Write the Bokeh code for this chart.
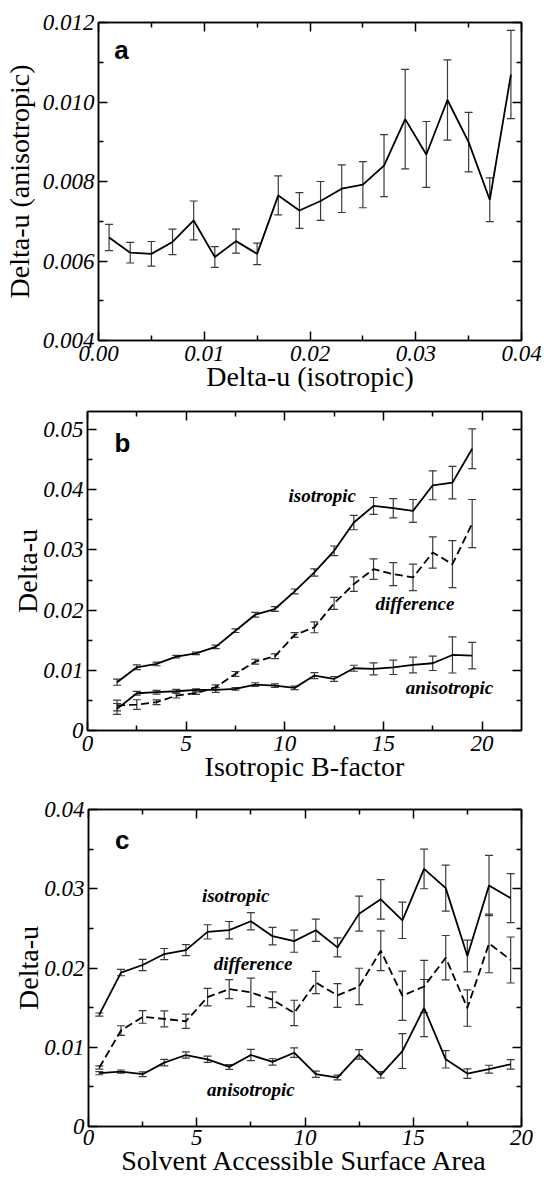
from bokeh.plotting import figure
from bokeh.models import (ColumnDataSource, Whisker, TeeHead, FixedTicker, LinearAxis,
                          Range1d, Label, CustomJSTickFormatter)
from bokeh.embed import file_html
from bokeh.resources import INLINE

# ---------------- Panel a ----------------
a_x = [0.001, 0.003, 0.005, 0.007, 0.009, 0.011, 0.013, 0.015, 0.017, 0.019,
       0.021, 0.023, 0.025, 0.027, 0.029, 0.031, 0.033, 0.035, 0.037, 0.039]
a_y = [0.00659, 0.00621, 0.00618, 0.00648, 0.00702, 0.00610, 0.00650, 0.00618, 0.00765, 0.00727,
       0.00751, 0.00782, 0.00792, 0.00840, 0.00957, 0.00868, 0.01005, 0.00899, 0.00754, 0.01069]
a_err = [0.00033, 0.00026, 0.00031, 0.00032, 0.00049, 0.00026, 0.00030, 0.00027, 0.00049, 0.00045,
         0.00049, 0.00060, 0.00058, 0.00078, 0.00125, 0.00083, 0.00101, 0.00075, 0.00055, 0.00111]
a_xticks = [0.0, 0.01, 0.02, 0.03, 0.04]
a_xlabels = ["0.00", "0.01", "0.02", "0.03", "0.04"]
a_xminor = [0.005, 0.015, 0.025, 0.035]
a_yticks = [0.004, 0.006, 0.008, 0.010, 0.012]
a_ylabels = ["0.004", "0.006", "0.008", "0.010", "0.012"]
a_yminor = [0.005, 0.007, 0.009, 0.011]

# ---------------- Panel b ----------------
b_x = [1.5, 2.5, 3.5, 4.5, 5.5, 6.5, 7.5, 8.5, 9.5, 10.5,
       11.5, 12.5, 13.5, 14.5, 15.5, 16.5, 17.5, 18.5, 19.5]
b_iso = [0.00802, 0.0105, 0.01106, 0.01227, 0.01282, 0.0139, 0.01658, 0.01924, 0.02018, 0.02311,
         0.02626, 0.02985, 0.03455, 0.03731, 0.03693, 0.03648, 0.04074, 0.04118, 0.04682]
b_iso_err = [0.0005, 0.0004, 0.0003, 0.0002, 0.0002, 0.0003, 0.0003, 0.0004, 0.0004, 0.0004,
             0.0006, 0.0008, 0.0012, 0.0014, 0.0016, 0.0019, 0.0024, 0.0027, 0.0033]
b_diff = [0.00415, 0.00431, 0.0047, 0.0058, 0.0062, 0.00719, 0.0094, 0.01144, 0.01233, 0.01587,
          0.01714, 0.02112, 0.02432, 0.02681, 0.02598, 0.02543, 0.02957, 0.02764, 0.03438]
b_diff_err = [0.0009, 0.0008, 0.0004, 0.0004, 0.0002, 0.0004, 0.0004, 0.0004, 0.0004, 0.0004,
              0.0009, 0.0010, 0.0012, 0.0017, 0.0019, 0.0022, 0.0026, 0.0039, 0.0040]
b_aniso = [0.00359, 0.00619, 0.00636, 0.00652, 0.00674, 0.00674, 0.00691, 0.00763, 0.00746, 0.00708,
           0.00912, 0.00857, 0.01034, 0.01023, 0.0105, 0.01089, 0.01117, 0.01255, 0.01244]
b_aniso_err = [0.0009, 0.0003, 0.0003, 0.0003, 0.0002, 0.0004, 0.0002, 0.0003, 0.0003, 0.0003,
               0.0005, 0.0004, 0.0005, 0.0010, 0.0012, 0.0013, 0.0012, 0.0030, 0.0022]
b_xticks = [0, 5, 10, 15, 20]
b_xlabels = ["0", "5", "10", "15", "20"]
b_xminor = [2.5, 7.5, 12.5, 17.5]
b_yticks = [0.0, 0.01, 0.02, 0.03, 0.04, 0.05]
b_ylabels = ["0", "0.01", "0.02", "0.03", "0.04", "0.05"]
b_yminor = [0.005, 0.015, 0.025, 0.035, 0.045]

# ---------------- Panel c ----------------
c_x = [0.5, 1.5, 2.5, 3.5, 4.5, 5.5, 6.5, 7.5, 8.5, 9.5,
       10.5, 11.5, 12.5, 13.5, 14.5, 15.5, 16.5, 17.5, 18.5, 19.5]
c_iso = [0.01412, 0.01942, 0.02038, 0.02176, 0.02226, 0.02456, 0.02477, 0.0259, 0.02402, 0.02339,
         0.02477, 0.0226, 0.02686, 0.02866, 0.02602, 0.0325, 0.03008, 0.02151, 0.03041, 0.02882]
c_iso_err = [0.0002, 0.0004, 0.0007, 0.0007, 0.0007, 0.0009, 0.0011, 0.0011, 0.0011, 0.0014,
             0.0014, 0.0012, 0.0022, 0.0025, 0.0023, 0.0025, 0.0029, 0.0020, 0.0038, 0.0031]
c_diff = [0.00744, 0.01211, 0.01383, 0.01358, 0.01328, 0.01633, 0.01734, 0.01692, 0.016, 0.01433,
          0.01817, 0.01654, 0.01767, 0.02218, 0.0165, 0.01767, 0.0213, 0.01495, 0.0231, 0.02101]
c_diff_err = [0.0002, 0.0006, 0.0008, 0.0010, 0.0009, 0.0011, 0.0012, 0.0018, 0.0010, 0.0016,
              0.0014, 0.0015, 0.0023, 0.0025, 0.0031, 0.0033, 0.0028, 0.0023, 0.0037, 0.0029]
c_aniso = [0.00673, 0.00693, 0.0066, 0.00806, 0.00902, 0.00848, 0.00752, 0.00902, 0.00815, 0.00931,
           0.0066, 0.00618, 0.00911, 0.00652, 0.00952, 0.01495, 0.00848, 0.00668, 0.00723, 0.00785]
c_aniso_err = [0.0002, 0.0002, 0.0003, 0.0004, 0.0004, 0.0004, 0.0003, 0.0007, 0.0004, 0.0006,
               0.0004, 0.0003, 0.0006, 0.0004, 0.0022, 0.0036, 0.0011, 0.0006, 0.0005, 0.0006]
c_xticks = [0, 5, 10, 15, 20]
c_xlabels = ["0", "5", "10", "15", "20"]
c_xminor = [2.5, 7.5, 12.5, 17.5]
c_yticks = [0.0, 0.01, 0.02, 0.03, 0.04]
c_ylabels = ["0", "0.01", "0.02", "0.03", "0.04"]
c_yminor = [0.005, 0.015, 0.025, 0.035]

SERIF = "Liberation Serif"
ERR_COLOR = "#3a3a3a"

LOOKUP = """
let k = 0, d = 1e99;
for (let i = 0; i < t.length; i++) { const e = Math.abs(t[i] - tick); if (e < d) { d = e; k = i; } }
return l[k];
"""


def fmt(ticks, labels):
    return CustomJSTickFormatter(args=dict(t=ticks, l=labels), code=LOOKUP)


def style_axis(ax, ticks, minor, labels=None):
    ax.ticker = FixedTicker(ticks=ticks, minor_ticks=minor)
    ax.major_tick_in = 9
    ax.major_tick_out = 0
    ax.minor_tick_in = 5
    ax.minor_tick_out = 0
    ax.axis_line_color = "black"
    ax.axis_line_width = 1.5
    ax.major_tick_line_color = "black"
    ax.major_tick_line_width = 1.5
    ax.minor_tick_line_color = "black"
    ax.minor_tick_line_width = 1.5
    if labels is None:
        ax.formatter = CustomJSTickFormatter(code="return '';")
        ax.major_label_text_font_size = "0px"
        ax.major_label_standoff = 0
    else:
        ax.formatter = fmt(ticks, labels)
        ax.major_label_text_font = SERIF
        ax.major_label_text_font_style = "italic"
        ax.major_label_text_font_size = "23px"
        ax.major_label_text_color = "black"
        ax.axis_label_text_font = SERIF
        ax.axis_label_text_font_style = "normal"
        ax.axis_label_text_font_size = "28px"
        ax.axis_label_text_color = "black"


def make_panel(xr, yr, height, top, bottom, left, xticks, xminor, xlabels,
               yticks, yminor, ylabels, xlabel, ylabel, xs1, xs2, ys2):
    p = figure(width=544, height=height, x_range=Range1d(*xr), y_range=Range1d(*yr),
               output_backend="svg", toolbar_location=None,
               min_border_left=left, min_border_right=23,
               min_border_top=top, min_border_bottom=bottom)
    p.grid.visible = False
    p.outline_line_color = "black"
    p.outline_line_width = 1.5
    p.background_fill_color = "white"
    p.border_fill_color = "white"
    style_axis(p.xaxis[0], xticks, xminor, xlabels)
    style_axis(p.yaxis[0], yticks, yminor, ylabels)
    p.xaxis[0].axis_label = xlabel
    p.yaxis[0].axis_label = ylabel
    p.xaxis[0].major_label_standoff = xs1
    p.xaxis[0].axis_label_standoff = xs2
    p.yaxis[0].major_label_standoff = 4
    p.yaxis[0].axis_label_standoff = ys2
    top_ax = LinearAxis()
    style_axis(top_ax, xticks, xminor)
    p.add_layout(top_ax, "above")
    right_ax = LinearAxis()
    style_axis(right_ax, yticks, yminor)
    p.add_layout(right_ax, "right")
    return p


def add_series(p, x, y, err, dash="solid"):
    lo = [v - e for v, e in zip(y, err)]
    hi = [v + e for v, e in zip(y, err)]
    src = ColumnDataSource(dict(x=x, y=y, lo=lo, hi=hi))
    w = Whisker(base="x", upper="hi", lower="lo", source=src,
                line_color=ERR_COLOR, line_width=1.2,
                upper_head=TeeHead(size=8, line_color=ERR_COLOR, line_width=1.2),
                lower_head=TeeHead(size=8, line_color=ERR_COLOR, line_width=1.2))
    p.add_layout(w)
    p.line("x", "y", source=src, line_color="black", line_width=1.8, line_dash=dash)


def add_letter(p, x, y, t):
    p.add_layout(Label(x=x, y=y, text=t, text_font="Liberation Sans", text_font_style="bold",
                       text_font_size="26px", text_color="black",
                       text_align="left", text_baseline="alphabetic"))


def add_tag(p, x, y, t):
    p.add_layout(Label(x=x, y=y, text=t, text_font=SERIF, text_font_style="bold italic",
                       text_font_size="19px", text_color="black",
                       text_align="center", text_baseline="middle"))


# Panel a
pa = make_panel((0, 0.04), (0.004, 0.012), 399, 22, 59, 97,
                a_xticks, a_xminor, a_xlabels, a_yticks, a_yminor, a_ylabels,
                "Delta-u (isotropic)", "Delta-u (anisotropic)", 5, -3, 5)
add_series(pa, a_x, a_y, a_err)
add_letter(pa, 0.0015, 0.0113, "a")

# Panel b
pb = make_panel((0, 22), (0, 0.053), 390, 12, 59, 87,
                b_xticks, b_xminor, b_xlabels, b_yticks, b_yminor, b_ylabels,
                "Isotropic B-factor", "Delta-u", 5, -3, -3)
add_series(pb, b_x, b_iso, b_iso_err)
add_series(pb, b_x, b_diff, b_diff_err, dash="8 4")
add_series(pb, b_x, b_aniso, b_aniso_err)
add_letter(pb, 1.37, 0.0478, "b")
add_tag(pb, 11.9, 0.0390, "isotropic")
add_tag(pb, 16.6, 0.0211, "difference")
add_tag(pb, 18.35, 0.0071, "anisotropic")

# Panel c
pc = make_panel((0, 20), (0, 0.04), 389, 20, 50, 88,
                c_xticks, c_xminor, c_xlabels, c_yticks, c_yminor, c_ylabels,
                "Solvent Accessible Surface Area", "Delta-u", 3, -3, -3)
add_series(pc, c_x, c_iso, c_iso_err)
add_series(pc, c_x, c_diff, c_diff_err, dash="8 4")
add_series(pc, c_x, c_aniso, c_aniso_err)
add_letter(pc, 1.22, 0.0362, "c")
add_tag(pc, 6.8, 0.0291, "isotropic")
add_tag(pc, 7.6, 0.0206, "difference")
add_tag(pc, 7.5, 0.0047, "anisotropic")

open("out.html", "w").write(file_html([pa, pb, pc], INLINE))
